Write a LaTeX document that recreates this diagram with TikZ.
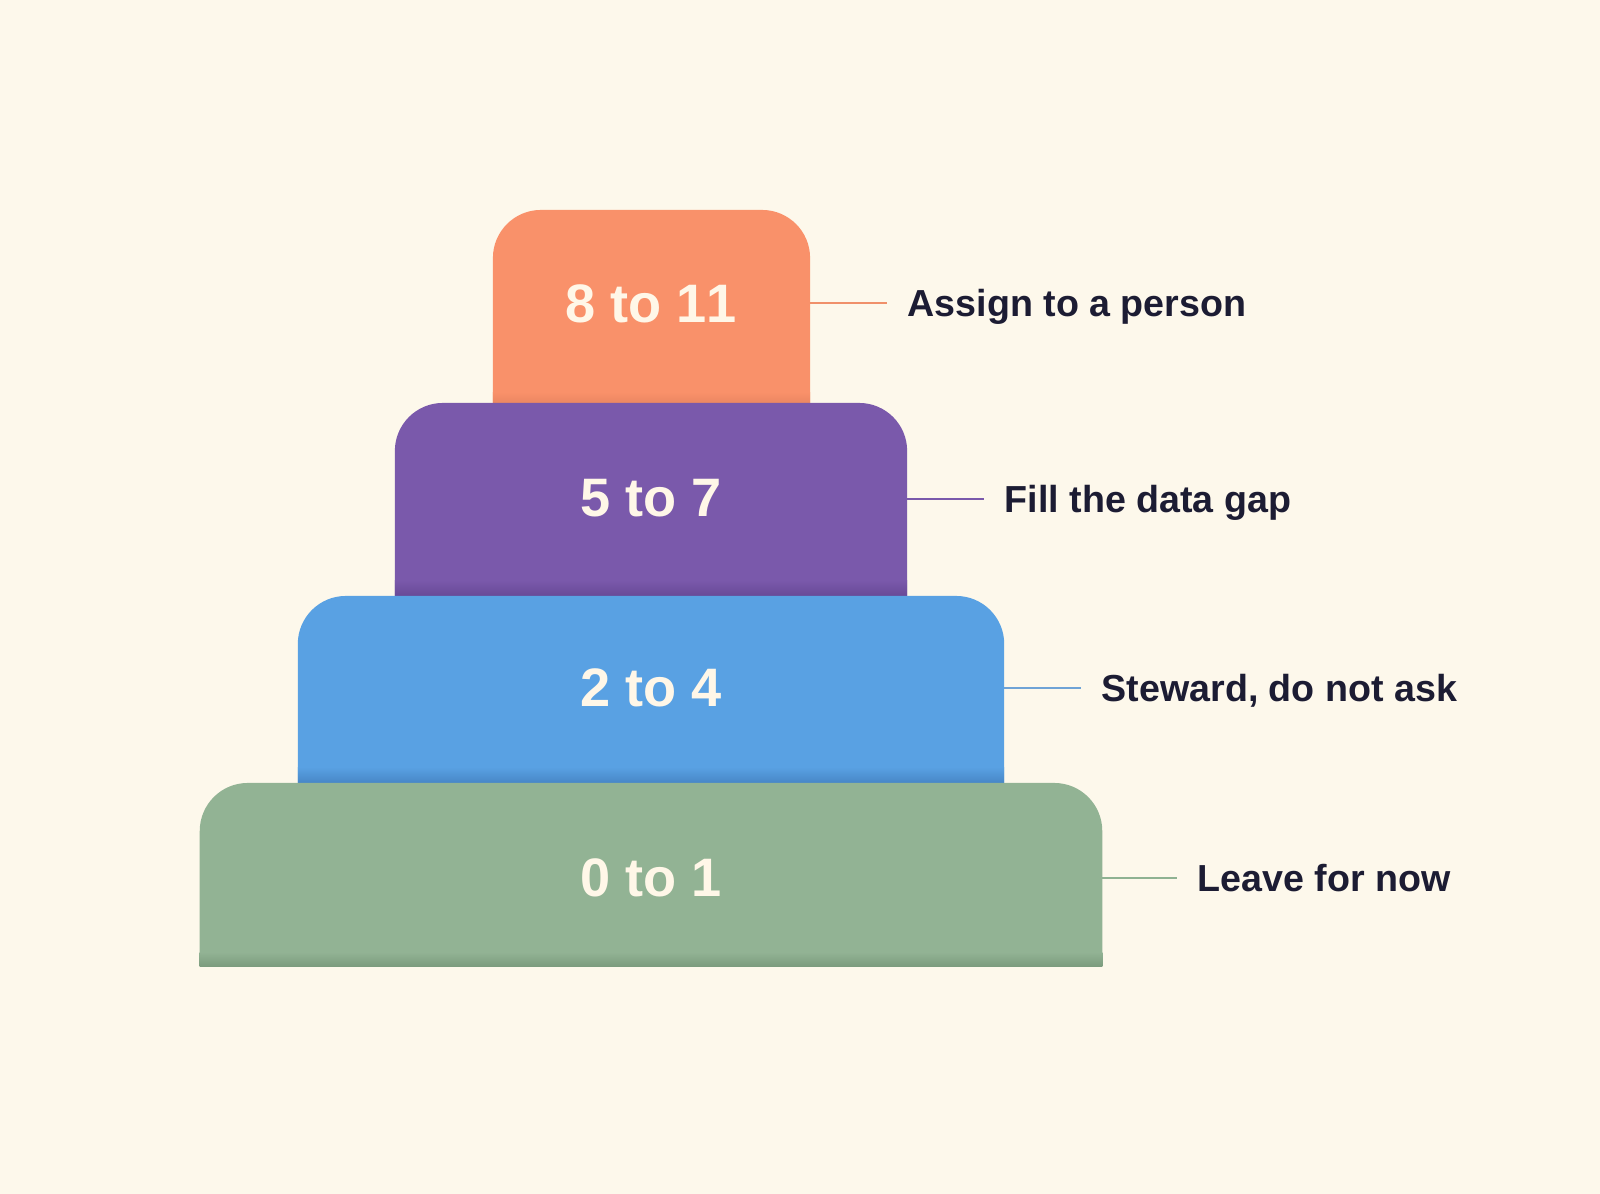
\documentclass[tikz,border=0pt]{standalone}
\usepackage{fontspec}
\setmainfont{Liberation Sans}
\usetikzlibrary{backgrounds}
\definecolor{bgc}{HTML}{FDF8EB}
\definecolor{orangec}{HTML}{F9916A}
\definecolor{oranged}{HTML}{E2805C}
\definecolor{purplec}{HTML}{7A59AB}
\definecolor{purpled}{HTML}{684997}
\definecolor{bluec}{HTML}{59A1E3}
\definecolor{blued}{HTML}{4786C6}
\definecolor{greenc}{HTML}{92B394}
\definecolor{greend}{HTML}{7C9C7E}
\definecolor{numc}{HTML}{FFF7E8}
\definecolor{labc}{HTML}{1C1C33}
\definecolor{orangel}{HTML}{F0906A}
\definecolor{purplel}{HTML}{7A59AB}
\definecolor{bluel}{HTML}{6FA3D6}
\definecolor{greenl}{HTML}{8FB292}
\tikzset{
  boxshape/.style={inner sep=0pt, outer sep=0pt},
  numtxt/.style={text=numc, font=\fontsize{15.4}{18}\selectfont\bfseries\addfontfeatures{Kerning=Off}, inner sep=0pt, text height=11.0pt, text depth=0pt},
  labtxt/.style={text=labc, font=\fontsize{10.7}{12}\selectfont\bfseries, inner sep=0pt, anchor=west, text height=7.66pt, text depth=0pt},
  conn/.style={line width=0.5pt, shorten >=0.2cm},
}
\begin{document}
\begin{tikzpicture}[x=0.01cm, y=-0.01cm]
\useasboundingbox (0,0) rectangle (1600,1194);
% box frames
\node[boxshape, minimum width=3.17cm, minimum height=2.00cm] (b1) at (651.5,310) {};
\node[boxshape, minimum width=5.12cm, minimum height=1.93cm] (b2) at (651,499.5) {};
\node[boxshape, minimum width=7.06cm, minimum height=1.87cm] (b3) at (651,689.5) {};
\node[boxshape, minimum width=9.02cm, minimum height=1.83cm] (b4) at (651,874.5) {};
% numbers
\node[numtxt] (t1) at (651,303) {8 to 11};
\node[numtxt] (t2) at (651,497) {5 to 7};
\node[numtxt] (t3) at (651,687) {2 to 4};
\node[numtxt] (t4) at (651,877) {0 to 1};
% labels
\node[labtxt] (l1) at (907,303) {Assign to a person};
\node[labtxt] (l2) at (1004,499) {Fill the data gap};
\node[labtxt] (l3) at (1101,688) {Steward, do not ask};
\node[labtxt] (l4) at (1197,878) {Leave for now};
% connectors
\draw[conn, orangel] (b1.east |- l1.west) -- (l1.west);
\draw[conn, purplel] (b2.east |- l2.west) -- (l2.west);
\draw[conn, bluel] (b3.east |- l3.west) -- (l3.west);
\draw[conn, greenl] (b4.east |- l4.west) -- (l4.west);
\begin{scope}[on background layer]
\fill[bgc] (0,0) rectangle (1600,1194);
% orange
\fill[orangec] (b1.south west) [rounded corners=0.48cm] -- (b1.north west) -- (b1.north east) [sharp corners] -- (b1.south east) -- cycle;
\shade[top color=orangec, bottom color=oranged] ([yshift=0.18cm]b1.south west) rectangle (b1.south east);
% purple
\fill[purplec] (b2.south west) [rounded corners=0.48cm] -- (b2.north west) -- (b2.north east) [sharp corners] -- (b2.south east) -- cycle;
\shade[top color=purplec, bottom color=purpled] ([yshift=0.16cm]b2.south west) rectangle (b2.south east);
% blue
\fill[bluec] (b3.south west) [rounded corners=0.48cm] -- (b3.north west) -- (b3.north east) [sharp corners] -- (b3.south east) -- cycle;
\shade[top color=bluec, bottom color=blued] ([yshift=0.16cm]b3.south west) rectangle (b3.south east);
% green
\fill[greenc] (b4.south west) [rounded corners=0.48cm] -- (b4.north west) -- (b4.north east) [sharp corners] -- (b4.south east) -- cycle;
\shade[top color=greenc, bottom color=greend] ([yshift=0.14cm]b4.south west) rectangle (b4.south east);
\end{scope}
\end{tikzpicture}
\end{document}
